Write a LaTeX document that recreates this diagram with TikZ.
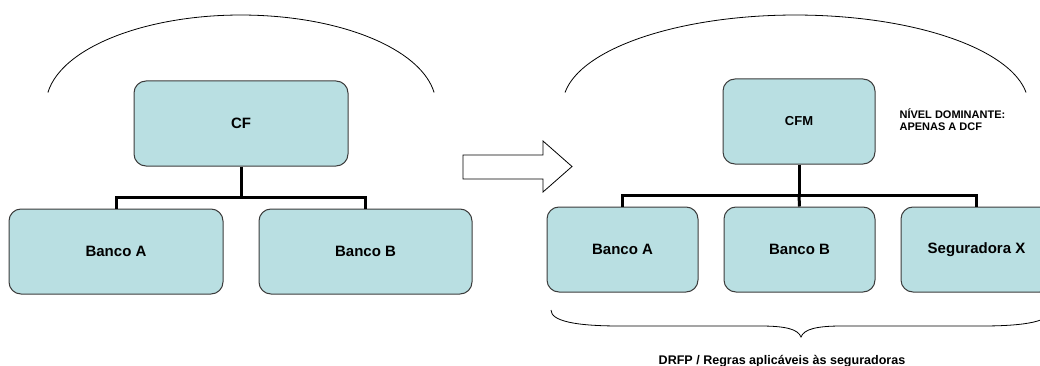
\documentclass[tikz,border=0pt]{standalone}
\usepackage{fontspec}
\setmainfont{Liberation Sans}
\definecolor{boxfill}{RGB}{185,223,226}
\definecolor{boxline}{RGB}{60,60,60}
\begin{document}
\begin{tikzpicture}[x=0.75pt,y=0.75pt,
  box/.style={draw=boxline, fill=boxfill, rounded corners=9pt, line width=0.75pt,
    minimum height=63.75pt, inner sep=0pt, font=\bfseries\fontsize{11.25}{13}\selectfont},
  conn/.style={line width=2.25pt, black},
  curve/.style={line width=0.6pt, black},
  lbl/.style={inner sep=0pt, font=\bfseries\fontsize{8.25}{9.3}\selectfont}]
\path[use as bounding box] (0,0) rectangle (1040,365);
\clip (0,0) rectangle (1040,365);

% left group
\draw[curve] (47.9,272.5) arc[start angle=172, end angle=8, x radius=195, y radius=90];
\node[box, minimum width=160.5pt] (cf) at (241,241.5) {CF};
\node[box, minimum width=160.5pt] (la) at (116,113.5) {Banco A};
\node[box, minimum width=159.75pt] (lb) at (365.5,113.5) {Banco B};
\coordinate (j1) at (241,168);
\draw[conn] (cf.south) -- (j1);
\draw[conn, line join=miter] (la.north) |- (j1) -| (lb.north);

% block arrow
\draw[curve, fill=white] (463,210) -- (543,210) -- (543,224) -- (572,198.5)
  -- (543,173) -- (543,186) -- (463,186) -- cycle;

% right group
\draw[curve] (565,272.5) arc[start angle=172, end angle=8, x radius=232.8, y radius=90];
\node[box, minimum width=114pt, font=\bfseries\fontsize{9.75}{11}\selectfont] (cfm) at (799,243.5) {CFM};
\node[box, minimum width=113.25pt] (ra) at (622.5,115.5) {Banco A};
\node[box, minimum width=113.25pt] (rb) at (799.5,115.5) {Banco B};
\node[box, minimum width=113.25pt] (sx) at (976.5,115.5) {Seguradora X};
\coordinate (j2) at (799,170);
\draw[conn] (cfm.south) -- (j2);
\draw[conn] (rb.north) -- (j2);
\draw[conn, line join=miter] (ra.north) |- (j2) -| (sx.north);

\node[lbl, anchor=base west] (n1) at (899.3,246.7) {NÍVEL DOMINANTE:};
\node[lbl, anchor=base west] (n2) at (899.3,234.3) {APENAS A DCF};

% brace
\draw[curve] (551,55) .. controls (551,44) and (575,39) .. (620,39) -- (760,39)
  .. controls (785,39) and (798,36) .. (801,28)
  .. controls (804,36) and (817,39) .. (842,39) -- (982,39)
  .. controls (1027,39) and (1051,44) .. (1051,55);
\node[inner sep=0pt, anchor=base, font=\bfseries\fontsize{9.4}{11}\selectfont] (drfp) at (782,1) {DRFP / Regras aplicáveis às seguradoras};
\end{tikzpicture}
\end{document}
